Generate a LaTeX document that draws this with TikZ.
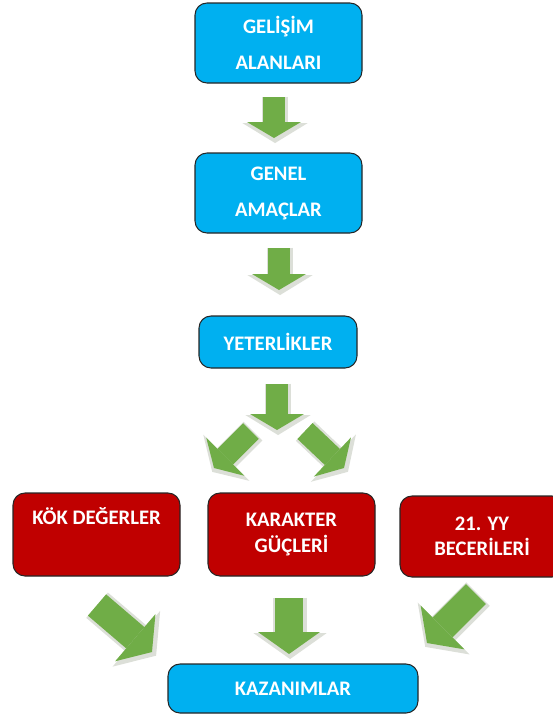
\documentclass[tikz,border=0pt]{standalone}
\usepackage{fontspec}
\setmainfont{Carlito}
\usetikzlibrary{arrows.meta}
\definecolor{kutumavi}{HTML}{00B0F0}
\definecolor{kutukirmizi}{HTML}{C00000}
\definecolor{okyesil}{HTML}{70AD47}
\definecolor{okgolge}{HTML}{DCDFD8}
\begin{document}
\begin{tikzpicture}[x=0.75pt,y=-0.75pt,
  kutu/.style={draw=black!85, line width=0.8pt, rounded corners=9pt, text=white, align=center, inner sep=0pt,
    font=\bfseries\fontsize{15.5}{27}\selectfont, minimum width=125.25pt, minimum height=60pt},
  mavi/.style={kutu, fill=kutumavi},
  kirmizi/.style={kutu, fill=kutukirmizi, font=\bfseries\fontsize{15.5}{19}\selectfont, minimum height=62.25pt},
  okkucuk/.style={okyesil, line width=16.5pt, -{Triangle[width=40.5pt,length=12pt,line width=0pt]}},
  okkucukgolge/.style={okgolge, line width=20pt, shorten >=-3pt, shorten <=-1pt,
    transform canvas={shift={(0.8pt,-0.8pt)}}, -{Triangle[width=49pt,length=15pt,line width=0pt]}},
  okbuyuk/.style={okyesil, line width=21pt, -{Triangle[width=46.5pt,length=16.5pt,line width=0pt]}},
  okbuyukgolge/.style={okgolge, line width=25pt, shorten >=-3pt, shorten <=-1pt,
    transform canvas={shift={(0.8pt,-0.8pt)}}, -{Triangle[width=55pt,length=19.5pt,line width=0pt]}}]
\useasboundingbox (0,0) rectangle (553,714);
\node[mavi] (alan) at (278.5,43) {GELİŞİM\\ALANLARI};
\node[mavi] (amac) at (278.5,193) {GENEL\\AMAÇLAR};
\node[mavi, minimum width=118.5pt, minimum height=39pt] (yeter) at (278,342) {YETERLİKLER};
\node[kirmizi] (kok) at (96.5,534.5) {KÖK DEĞERLER\\[8pt]~};
\node[kirmizi] (kar) at (291.5,534.5) {KARAKTER\\GÜÇLERİ};
\node[kirmizi, minimum width=123pt, minimum height=60.75pt] (yy) at (482,536.5) {21. YY\\BECERİLERİ};
\node[mavi, minimum width=187.5pt, minimum height=36.75pt] (kaz) at (293,688.5) {KAZANIMLAR};
\coordinate (a1s) at (274,97);  \coordinate (a1e) at (274,138);
\coordinate (a2s) at (279,248); \coordinate (a2e) at (279,290);
\coordinate (a3s) at (277,384); \coordinate (a3e) at (277,430);
\coordinate (a4s) at (251,431); \coordinate (a4e) at (214,468);
\coordinate (a5s) at (305,431); \coordinate (a5e) at (344,468);
\coordinate (b1s) at (97,605);  \coordinate (b1e) at (152,652);
\coordinate (b2s) at (289,598); \coordinate (b2e) at (289,654);
\coordinate (b3s) at (476,594); \coordinate (b3e) at (427,643);
\foreach \s/\e in {a1s/a1e,a2s/a2e,a3s/a3e,a4s/a4e,a5s/a5e} {
  \draw[okkucukgolge] (\s) -- (\e);
  \draw[okkucuk] (\s) -- (\e);
}
\foreach \s/\e in {b1s/b1e,b2s/b2e,b3s/b3e} {
  \draw[okbuyukgolge] (\s) -- (\e);
  \draw[okbuyuk] (\s) -- (\e);
}
\end{tikzpicture}
\end{document}
